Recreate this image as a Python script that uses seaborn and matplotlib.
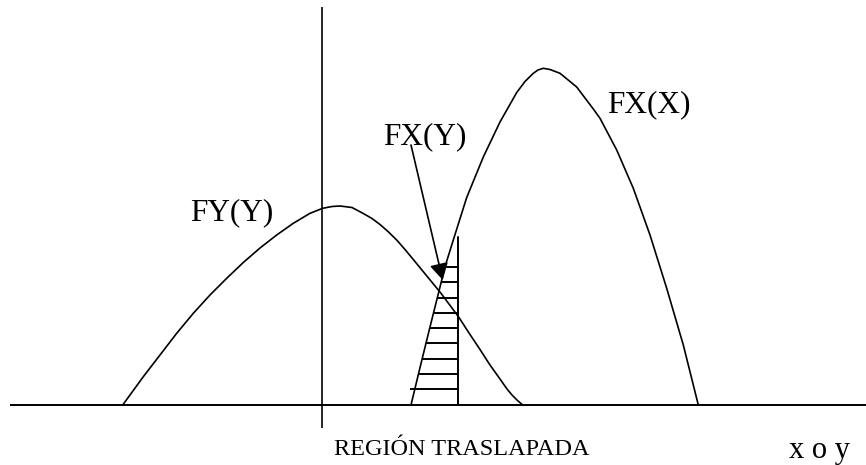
import numpy as np
import matplotlib
matplotlib.use("Agg")
import matplotlib.pyplot as plt
import seaborn as sns

# ---- data (x: offset from the vertical axis, y: height above the base line) ----
fy_x = [-199.3, -178.7, -162, -145.3, -128.7, -112, -95.3, -78.7, -62, -45.3,
        -28.7, -12, 0.7, 10, 18, 30, 41.3, 50, 58, 66, 74.7, 83, 91.3, 104,
        118, 127, 137, 147, 158, 168, 178, 185, 190, 195.5, 200.7]
fy_y = [0, 28.3, 50, 71.7, 91.7, 110, 126.7, 142.5, 157, 170,
        181.7, 191.7, 196.7, 198.5, 199, 197.5, 191.5, 186.5, 180.5, 173.5, 165, 155.5, 145.5, 130,
        113, 101, 87.5, 72, 55.5, 40, 26, 16, 10, 4.5, 0]

fx_x = [89, 98, 108, 118, 123, 131.3, 144.7, 161.3, 178, 194.7, 203, 211.3, 216,
        221.3, 228, 238, 254.7, 271.3, 278, 294.7, 311.3, 328, 344.7, 361.3, 376.3]
fx_y = [0, 37.4, 78, 118, 138.3, 165, 207.5, 248, 283, 312.5, 323.5, 331.7, 335,
        336.7, 335.5, 331.7, 318, 296, 286.7, 255, 216.7, 170, 116.7, 60, 0]

hatch_levels = [16, 31, 46.3, 61.7, 77.3, 92.3, 107.3, 122.7, 138.3]
hatch_right = 136.3
hatch_top = 168.3

labels = {
    "FY(Y)": (-132, 185),
    "FX(Y)": (60.7, 261),
    "FX(X)": (284.7, 292.3),
}
arrow_from = (89, 260)
arrow_to = (120.7, 125)
region_label = "REGIÓN TRASLAPADA"
axis_label = "x o y"

# ---- drawing ----
sns.set_theme(style="white")
plt.rcParams["font.family"] = ["Liberation Serif", "DejaVu Serif"]

fig = plt.figure(figsize=(8.66, 4.65), dpi=100)
ax = fig.add_axes([0, 0, 1, 1])
ax.set_xlim(-322, 544)
ax.set_ylim(-60, 405)
ax.axis("off")

lw = 1.2
# axes lines
ax.plot([-312, 544], [0, 0], color="black", lw=1.4, solid_capstyle="butt")
ax.plot([0, 0], [-23, 398], color="black", lw=lw, solid_capstyle="butt")

sns.lineplot(x=fy_x, y=fy_y, sort=False, color="black", lw=lw, ax=ax, estimator=None)
sns.lineplot(x=fx_x, y=fx_y, sort=False, color="black", lw=lw, ax=ax, estimator=None)

# overlap region hatch
ax.plot([hatch_right, hatch_right], [0, hatch_top], color="black", lw=1.4)
peak = int(np.argmax(fx_y))
left_x = np.array(fx_x[: peak + 1])
left_y = np.array(fx_y[: peak + 1])
for i, h in enumerate(hatch_levels):
    xl = np.interp(h, left_y, left_x)
    if i == 0:
        xl -= 5
    ax.plot([xl, hatch_right], [h, h], color="black", lw=1.4, solid_capstyle="butt")

# labels
for txt, (x, y) in labels.items():
    ax.text(x, y, txt, fontsize=22.5, ha="left", va="baseline", color="black")

ax.annotate("", xy=arrow_to, xytext=arrow_from,
            arrowprops=dict(arrowstyle="-|>,head_length=0.5,head_width=0.28",
                            mutation_scale=20, color="black", lw=lw,
                            shrinkA=0, shrinkB=0))

ax.text(140, -50, region_label, fontsize=17.5, ha="center", va="baseline", color="black")
ax.text(467, -53, axis_label, fontsize=22, ha="left", va="baseline", color="black")

fig.savefig("out.png", dpi=100)
